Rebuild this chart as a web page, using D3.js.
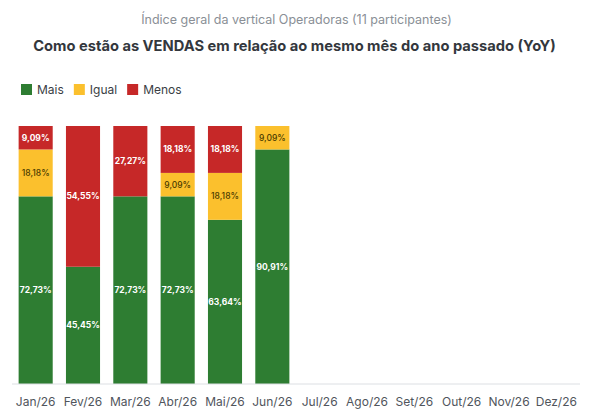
<!DOCTYPE html>
<html>
<head>
<meta charset="utf-8">
<script src="https://cdn.jsdelivr.net/npm/d3@7"></script>
<style>
  body { margin: 0; background: #fff; }
  svg { display: block; font-family: Inter, "Noto Sans", sans-serif; }
</style>
</head>
<body>
<div id="chart"></div>
<script>
const months = ["Jan/26", "Fev/26", "Mar/26", "Abr/26", "Mai/26", "Jun/26",
  "Jul/26", "Ago/26", "Set/26", "Out/26", "Nov/26", "Dez/26"];
const maisValues = [72.73, 45.45, 72.73, 72.73, 63.64, 90.91];
const igualValues = [18.18, 0, 0, 9.09, 18.18, 9.09];
const menosValues = [9.09, 54.55, 27.27, 18.18, 18.18, 0];
const seriesNames = ["Mais", "Igual", "Menos"];
const seriesColors = ["#2e7d32", "#fbc02d", "#c62828"];
const labelColors = ["#ffffff", "#4a3b00", "#ffffff"];

const width = 593, height = 411;
const svg = d3.select("#chart").append("svg")
  .attr("width", width).attr("height", height);

// titles
svg.append("text")
  .attr("x", width / 2).attr("y", 24)
  .attr("text-anchor", "middle")
  .attr("font-size", "12.5px")
  .attr("fill", "#8a8f96")
  .text("Índice geral da vertical Operadoras (11 participantes)");

svg.append("text")
  .attr("x", width / 2 - 2).attr("y", 51)
  .attr("text-anchor", "middle")
  .attr("font-size", "14.7px")
  .attr("font-weight", "700")
  .attr("fill", "#33373d")
  .text("Como estão as VENDAS em relação ao mesmo mês do ano passado (YoY)");

// legend
const legend = svg.append("g").attr("transform", "translate(21,84)");
let lx = 0;
seriesNames.forEach((name, i) => {
  const g = legend.append("g").attr("transform", `translate(${lx},0)`);
  g.append("rect").attr("width", 11).attr("height", 11).attr("fill", seriesColors[i]);
  const t = g.append("text").attr("x", 16).attr("y", 10)
    .attr("font-size", "12px").attr("fill", "#3a3e44").text(name);
  lx += 16 + t.node().getComputedTextLength() + 10;
});

// data table
const rows = months.map((m, i) => ({
  month: m,
  Mais: maisValues[i] || 0,
  Igual: igualValues[i] || 0,
  Menos: menosValues[i] || 0
}));
const stacked = d3.stack().keys(seriesNames)(rows);

const x = d3.scaleBand().domain(months).range([12, 580]).paddingInner(0.28).paddingOuter(0.14);
const y = d3.scaleLinear().domain([0, 100]).range([384, 126]);

const layers = svg.append("g").selectAll("g").data(stacked).join("g")
  .attr("fill", (d, i) => seriesColors[i]);

layers.selectAll("rect").data(d => d.filter(p => p[1] - p[0] > 0)).join("rect")
  .attr("x", d => x(d.data.month))
  .attr("width", x.bandwidth())
  .attr("y", d => y(d[1]))
  .attr("height", d => y(d[0]) - y(d[1]));

// segment labels
stacked.forEach((layer, i) => {
  svg.append("g").selectAll("text").data(layer.filter(p => p[1] - p[0] > 0)).join("text")
    .attr("x", d => x(d.data.month) + x.bandwidth() / 2)
    .attr("y", d => (y(d[0]) + y(d[1])) / 2)
    .attr("dy", "0.35em")
    .attr("text-anchor", "middle")
    .attr("font-size", "8.5px")
    .attr("font-weight", i === 1 ? "500" : "700")
    .attr("fill", labelColors[i])
    .text(d => d3.format(".2f")(d[1] - d[0]).replace(".", ",") + "%");
});

// x axis
const axis = svg.append("g").attr("transform", "translate(0,384)")
  .call(d3.axisBottom(x).tickSize(0).tickPadding(13));
axis.select(".domain").attr("stroke", "#dcdfe3").attr("d", "M12,0H580");
axis.selectAll("text").attr("font-size", "12px").attr("fill", "#50555c")
  .attr("font-family", "Inter, 'Noto Sans', sans-serif");
</script>
</body>
</html>
